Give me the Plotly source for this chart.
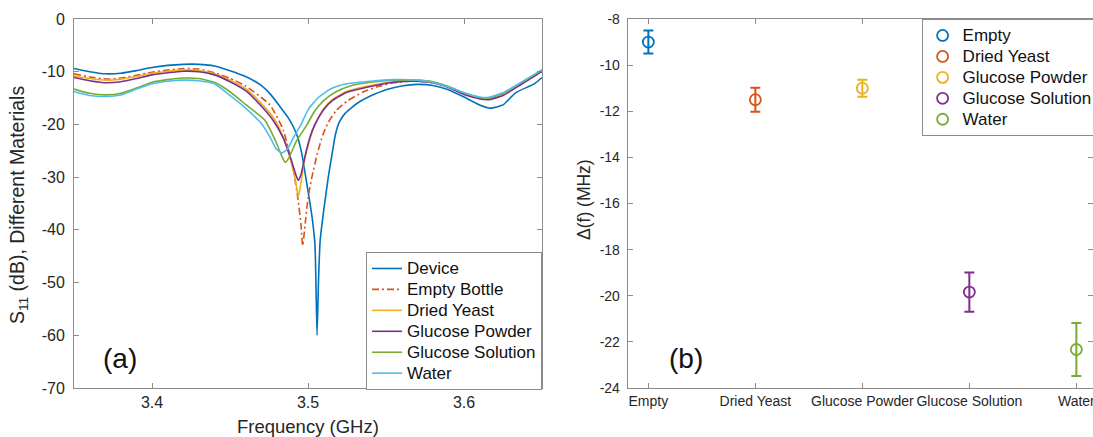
import plotly.graph_objects as go

# ---------------- Panel (a): S11 curves ----------------
device_f = [3.350, 3.360, 3.370, 3.380, 3.390, 3.400, 3.410, 3.420, 3.430, 3.440, 3.450, 3.460, 3.470,
            3.476, 3.482, 3.4875, 3.4928, 3.496, 3.498, 3.5005, 3.5028, 3.5045, 3.5058, 3.5068, 3.5078,
            3.510, 3.513, 3.5155, 3.5175, 3.520, 3.5235, 3.528, 3.533, 3.540, 3.550, 3.560, 3.570, 3.580,
            3.590, 3.600, 3.610, 3.617, 3.625, 3.633, 3.645, 3.650]
device_s11 = [-9.4, -10.0, -10.4, -10.3, -9.8, -9.2, -8.8, -8.6, -8.6, -8.9, -9.8, -10.9, -12.6,
              -14.3, -16.6, -18.8, -21.9, -25.5, -29.0, -33.5, -38.0, -43.0, -60.0, -49.0, -42.0,
              -36.5, -30.0, -25.5, -22.0, -19.6, -18.0, -16.8, -15.7, -14.6, -13.4, -12.7, -12.4, -12.6,
              -13.4, -14.8, -16.3, -16.9, -16.3, -14.0, -12.3, -11.1]

empty_f = [3.350, 3.360, 3.371, 3.380, 3.390, 3.400, 3.410, 3.420, 3.430, 3.440, 3.450, 3.460, 3.4756,
           3.4842, 3.4906, 3.4935, 3.4955, 3.4966, 3.4985, 3.500, 3.5025, 3.506, 3.5095, 3.513, 3.518,
           3.525, 3.535, 3.545, 3.555, 3.565, 3.575, 3.585, 3.595, 3.605, 3.613, 3.620, 3.630, 3.640, 3.650]
empty_s11 = [-10.4, -11.0, -11.4, -11.2, -10.7, -10.1, -9.7, -9.4, -9.5, -10.2, -11.25, -12.7, -16.3,
             -21.1, -28.7, -34.0, -39.0, -43.0, -38.0, -34.0, -30.0, -25.5, -22.0, -19.6, -17.4,
             -15.6, -13.9, -12.8, -12.1, -11.8, -11.9, -12.4, -13.5, -14.7, -15.3, -14.9, -13.3, -11.6, -10.0]

yeast_f = [3.350, 3.360, 3.371, 3.380, 3.390, 3.400, 3.410, 3.420, 3.430, 3.440, 3.450, 3.460, 3.470,
           3.479, 3.485, 3.4895, 3.4925, 3.4938, 3.4955, 3.498, 3.501, 3.5044, 3.510, 3.516, 3.525,
           3.540, 3.555, 3.570, 3.580, 3.590, 3.600, 3.610, 3.616, 3.625, 3.635, 3.650]
yeast_s11 = [-10.8, -11.3, -11.6, -11.4, -10.9, -10.3, -9.9, -9.7, -9.8, -10.4, -11.6, -13.2, -16.0,
             -19.2, -23.0, -27.5, -31.5, -33.7, -31.0, -26.5, -23.0, -20.0, -17.0, -15.2, -13.7,
             -12.6, -11.9, -11.7, -12.0, -12.8, -14.1, -15.0, -15.2, -14.4, -12.6, -9.8]

powder_f = [3.350, 3.360, 3.371, 3.380, 3.390, 3.400, 3.410, 3.420, 3.430, 3.440, 3.450, 3.460, 3.470,
            3.4776, 3.484, 3.489, 3.4925, 3.4938, 3.4955, 3.4985, 3.5015, 3.5045, 3.510, 3.516, 3.525,
            3.540, 3.555, 3.570, 3.580, 3.590, 3.600, 3.610, 3.616, 3.625, 3.635, 3.650]
powder_s11 = [-11.1, -11.7, -12.1, -11.9, -11.3, -10.6, -10.2, -9.9, -10.0, -10.6, -11.9, -13.6, -16.5,
              -19.2, -22.5, -26.5, -29.8, -30.6, -29.5, -25.5, -22.2, -20.0, -17.2, -15.4, -13.9,
              -12.8, -12.0, -11.8, -12.1, -13.0, -14.3, -15.1, -15.3, -14.5, -12.7, -9.9]

solution_f = [3.350, 3.360, 3.371, 3.380, 3.390, 3.400, 3.410, 3.420, 3.430, 3.440, 3.450, 3.460, 3.4724,
              3.479, 3.4835, 3.4855, 3.488, 3.4925, 3.4995, 3.504, 3.510, 3.518, 3.528, 3.540, 3.555,
              3.570, 3.580, 3.590, 3.600, 3.610, 3.616, 3.625, 3.635, 3.650]
solution_s11 = [-13.3, -14.1, -14.4, -14.1, -13.1, -12.0, -11.5, -11.2, -11.3, -12.0, -13.8, -16.2, -19.2,
                -23.0, -26.2, -27.2, -26.2, -23.2, -20.0, -17.6, -15.5, -13.8, -12.6, -12.0, -11.6,
                -11.6, -11.9, -12.8, -14.0, -14.9, -15.0, -14.1, -12.4, -9.7]

water_f = [3.350, 3.360, 3.371, 3.380, 3.390, 3.400, 3.410, 3.420, 3.430, 3.440, 3.450, 3.460, 3.470,
           3.476, 3.4795, 3.4833, 3.487, 3.4905, 3.4955, 3.5005, 3.507, 3.515, 3.525, 3.540, 3.555,
           3.570, 3.580, 3.590, 3.600, 3.610, 3.615, 3.625, 3.635, 3.650]
water_s11 = [-13.8, -14.5, -14.7, -14.4, -13.3, -12.3, -11.8, -11.6, -11.7, -12.3, -14.5, -16.9, -19.8,
             -22.6, -24.6, -25.4, -24.6, -22.6, -20.0, -17.0, -14.8, -13.2, -12.3, -11.8, -11.5,
             -11.6, -12.0, -12.9, -14.0, -14.8, -14.9, -14.0, -12.3, -9.6]

curve_names = ["Device", "Empty Bottle", "Dried Yeast", "Glucose Powder", "Glucose Solution", "Water"]
curve_f = [device_f, empty_f, yeast_f, powder_f, solution_f, water_f]
curve_s11 = [device_s11, empty_s11, yeast_s11, powder_s11, solution_s11, water_s11]
curve_colors = ["#0072BD", "#D95319", "#EDB120", "#7E2F8E", "#77AC30", "#4DBEEE"]
curve_dash = ["solid", "7px,3px,2px,3px", "solid", "solid", "solid", "solid"]

freq_ticks = [3.4, 3.5, 3.6]
freq_labels = ["3.4", "3.5", "3.6"]
s11_ticks = [0, -10, -20, -30, -40, -50, -60, -70]
s11_labels = ["0", "-10", "-20", "-30", "-40", "-50", "-60", "-70"]

# ---------------- Panel (b): frequency shift ----------------
categories = ["Empty", "Dried Yeast", "Glucose Powder", "Glucose Solution", "Water"]
delta_f = [-9.0, -11.5, -11.0, -19.84, -22.33]
delta_err = [0.5, 0.52, 0.37, 0.85, 1.15]
cat_colors = ["#0072BD", "#D95319", "#EDB120", "#7E2F8E", "#77AC30"]
delta_ticks = [-8, -10, -12, -14, -16, -18, -20, -22, -24]
delta_labels = ["-8", "-10", "-12", "-14", "-16", "-18", "-20", "-22", "-24"]

FONT = "Liberation Sans, Arial, Helvetica, sans-serif"
AX = "#8c8c8c"
TXT = "#262626"
W, H = 1093, 437


def px_x(p):
    return p / W


def px_y(p):
    return 1 - p / H


def big(label, size=17):
    return '<span style="font-size:%dpx">%s</span>' % (size, label)


fig = go.Figure()

for name, f, s, c, d in zip(curve_names, curve_f, curve_s11, curve_colors, curve_dash):
    fig.add_trace(go.Scatter(x=f, y=s, mode="lines", name=big(name),
                             line=dict(color=c, width=1.6, dash=d, shape="spline", smoothing=0.5),
                             xaxis="x", yaxis="y", legend="legend"))

for i, (cat, v, e, c) in enumerate(zip(categories, delta_f, delta_err, cat_colors)):
    fig.add_trace(go.Scatter(x=[i], y=[v], mode="markers", name=big(cat),
                             marker=dict(symbol="circle-open", size=11, color=c, line=dict(width=1.8, color=c)),
                             error_y=dict(type="data", array=[e], visible=True, color=c, thickness=2, width=5),
                             xaxis="x2", yaxis="y2", legend="legend2"))

axis_common = dict(showline=True, linecolor=AX, linewidth=1, mirror="ticks", ticks="inside",
                   ticklen=5, tickcolor=AX, tickwidth=1, showgrid=False, zeroline=False)

left_x0, left_x1 = 74, 542
right_x0 = 627.7
top_px, bot_px = 19, 388

fig.update_layout(
    width=W, height=H,
    margin=dict(l=0, r=0, t=0, b=0, autoexpand=False),
    paper_bgcolor="white", plot_bgcolor="white",
    font=dict(family=FONT, color=TXT),
    xaxis=dict(domain=[px_x(left_x0), px_x(left_x1)], range=[3.35, 3.65], tickvals=freq_ticks,
               ticktext=freq_labels, tickfont=dict(size=16, color=TXT), anchor="y",
               **axis_common),
    yaxis=dict(domain=[px_y(bot_px), px_y(top_px)], range=[-70, 0], tickvals=s11_ticks,
               ticktext=s11_labels, tickfont=dict(size=16, color=TXT), anchor="x",
               ticklabelstandoff=5, **axis_common),
    xaxis2=dict(domain=[px_x(right_x0), 1.0], range=[-0.193, -0.193 + (W - right_x0) / 107.0],
                tickvals=list(range(len(categories))), ticktext=categories,
                tickfont=dict(size=14, color=TXT), anchor="y2", ticklabeloverflow="allow",
                **axis_common),
    yaxis2=dict(domain=[px_y(bot_px), px_y(top_px)], range=[-24, -8], tickvals=delta_ticks,
                ticktext=delta_labels, tickfont=dict(size=14, color=TXT), anchor="x2",
                ticklabelstandoff=4, **axis_common),
    legend=dict(x=px_x(left_x1), y=px_y(bot_px + 2), xanchor="right", yanchor="bottom",
                bgcolor="white", bordercolor=AX, borderwidth=1,
                font=dict(family=FONT, size=13.8, color="#111111"), tracegroupgap=0),
    legend2=dict(x=px_x(921.6), y=px_y(top_px), xanchor="left", yanchor="top",
                 bgcolor="white", bordercolor=AX, borderwidth=1,
                 font=dict(family=FONT, size=13.8, color="#111111"), tracegroupgap=0),
    showlegend=True,
)

annotations = [
    dict(text="(a)", x=px_x(120), y=px_y(358), xref="paper", yref="paper", showarrow=False,
         font=dict(size=28, color="#111111", family=FONT), xanchor="center", yanchor="middle"),
    dict(text="(b)", x=px_x(686), y=px_y(358), xref="paper", yref="paper", showarrow=False,
         font=dict(size=28, color="#111111", family=FONT), xanchor="center", yanchor="middle"),
    dict(text="Frequency (GHz)", x=px_x(308), y=px_y(426), xref="paper", yref="paper", showarrow=False,
         font=dict(size=18.5, color=TXT, family=FONT), xanchor="center", yanchor="middle"),
    dict(text="S<sub>11</sub> (dB), Different Materials", x=px_x(19), y=px_y(205), xref="paper",
         yref="paper", showarrow=False, textangle=-90,
         font=dict(size=19.5, color=TXT, family=FONT), xanchor="center", yanchor="middle"),
    dict(text="Δ(f) (MHz)", x=px_x(584), y=px_y(200), xref="paper", yref="paper", showarrow=False,
         textangle=-90, font=dict(size=17.5, color=TXT, family=FONT), xanchor="center", yanchor="middle"),
]
fig.update_layout(annotations=annotations)

fig.write_html("out.html", config={"displayModeBar": False},
               post_script="document.body.style.margin='0px';document.body.style.overflow='hidden';")
